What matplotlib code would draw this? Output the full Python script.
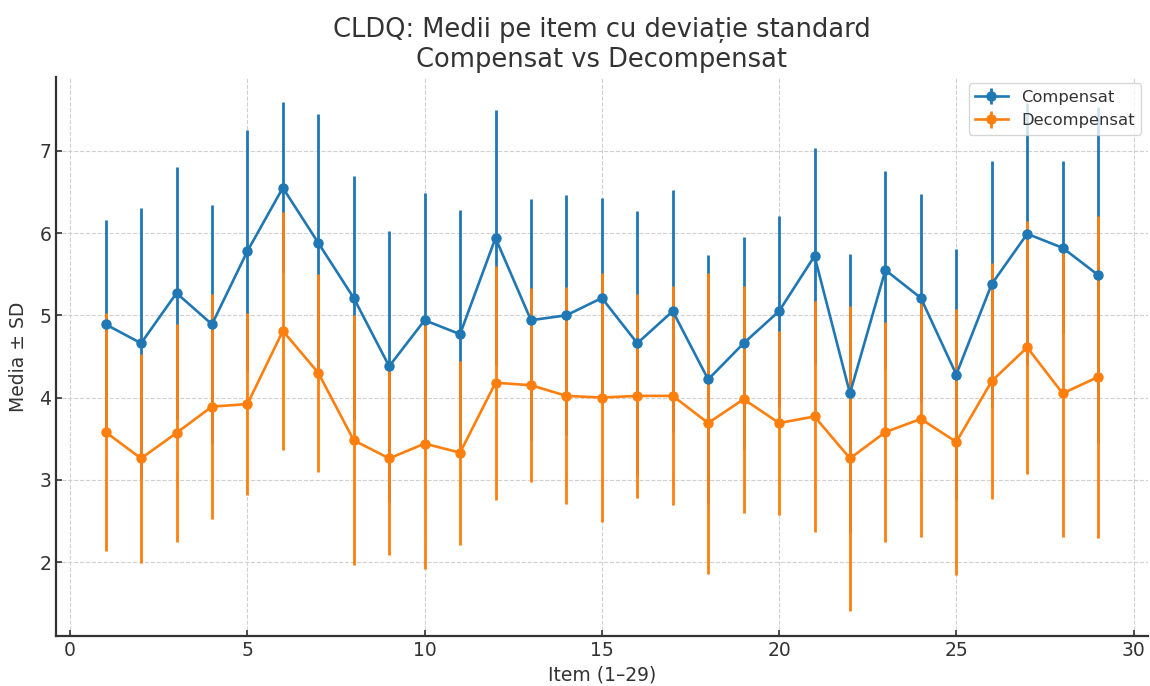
import matplotlib
matplotlib.use("Agg")
import matplotlib.pyplot as plt
import numpy as np

items = list(range(1, 30))
comp_mean = [4.89, 4.66, 5.27, 4.89, 5.78, 6.55, 5.88, 5.21, 4.38, 4.94,
             4.77, 5.94, 4.94, 5.00, 5.21, 4.66, 5.05, 4.22, 4.66, 5.05,
             5.72, 4.05, 5.55, 5.21, 4.28, 5.38, 5.99, 5.82, 5.49]
comp_sd = [1.27, 1.65, 1.53, 1.45, 1.47, 1.04, 1.57, 1.48, 1.65, 1.55,
           1.51, 1.55, 1.47, 1.46, 1.22, 1.61, 1.47, 1.51, 1.29, 1.16,
           1.31, 1.70, 1.20, 1.27, 1.52, 1.50, 1.59, 1.05, 2.04]
dec_mean = [3.58, 3.26, 3.57, 3.89, 3.92, 4.81, 4.30, 3.48, 3.26, 3.44,
            3.33, 4.18, 4.15, 4.02, 4.00, 4.02, 4.02, 3.69, 3.98, 3.69,
            3.77, 3.26, 3.58, 3.74, 3.46, 4.20, 4.61, 4.05, 4.25]
dec_sd = [1.45, 1.27, 1.33, 1.37, 1.11, 1.45, 1.20, 1.52, 1.17, 1.53,
          1.12, 1.42, 1.18, 1.32, 1.51, 1.24, 1.33, 1.83, 1.38, 1.12,
          1.40, 1.85, 1.34, 1.43, 1.62, 1.43, 1.54, 1.74, 1.96]

title = "CLDQ: Medii pe item cu deviație standard\nCompensat vs Decompensat"
xlabel = "Item (1–29)"
ylabel = "Media ± SD"
labels = ["Compensat", "Decompensat"]

txt = "#333333"
plt.rcParams["font.family"] = ["DejaVu Sans"]

fig = plt.figure(figsize=(11.5, 6.86), dpi=100)
ax = fig.add_axes([0.0487, 0.0729, 0.9493, 0.8151])

ax.errorbar(items, comp_mean, yerr=comp_sd, fmt="-o", color="#1f77b4",
            ecolor="#1f77b4", elinewidth=2.0, linewidth=1.9, markersize=6.5,
            capsize=0, label=labels[0])
ax.errorbar(items, dec_mean, yerr=dec_sd, fmt="-o", color="#ff7f0e",
            ecolor="#ff7f0e", elinewidth=2.0, linewidth=1.9, markersize=6.5,
            capsize=0, label=labels[1])

ax.set_xticks([0, 5, 10, 15, 20, 25, 30])
ax.set_yticks([2, 3, 4, 5, 6, 7])
ax.grid(True, linestyle="--", color="#d0d0d0", linewidth=0.8)
ax.set_axisbelow(True)
for s in ["top", "right"]:
    ax.spines[s].set_visible(False)
for s in ["left", "bottom"]:
    ax.spines[s].set_color(txt)
    ax.spines[s].set_linewidth(1.6)
ax.tick_params(direction="in", length=4, width=1.2, colors=txt,
               labelsize=13.5, labelcolor=txt)

ax.set_xlabel(xlabel, fontsize=13.5, color=txt, labelpad=4)
ax.set_ylabel(ylabel, fontsize=13.5, color=txt, labelpad=8)
ax.set_title(title, fontsize=18.5, color=txt, pad=7)

leg = ax.legend(loc="upper right", fontsize=11.8, frameon=True,
                fancybox=True, framealpha=0.8, edgecolor="#cccccc",
                borderaxespad=0.4)
for t in leg.get_texts():
    t.set_color(txt)

fig.savefig("out.png", dpi=100)
